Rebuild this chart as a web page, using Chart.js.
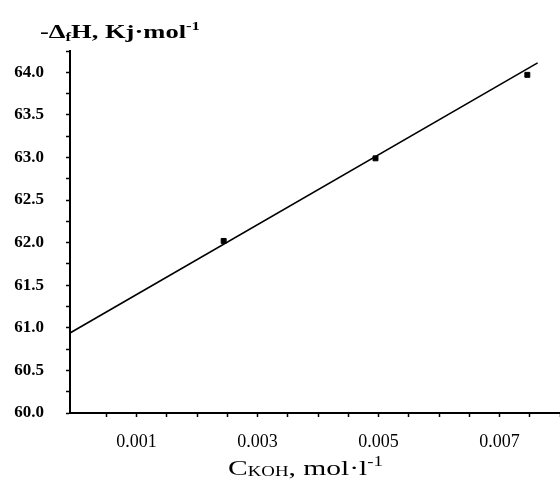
<!DOCTYPE html>
<html>
<head>
<meta charset="utf-8">
<script src="https://cdn.jsdelivr.net/npm/chart.js@4.4.0/dist/chart.umd.min.js"></script>
<style>
  html, body { margin: 0; background: #fff; overflow: hidden; }
  canvas { display: block; }
</style>
</head>
<body>
<!-- el lienzo es 5px más ancho para que el eje x llegue al borde de la ventana -->
<canvas id="grafica" width="565" height="493"></canvas>
<script>
// datos medidos (concentración de KOH vs entalpía)
var concKOH = [0.00244, 0.00495, 0.00746];
var entalpia = [62.02, 62.99, 63.97];

// recta de ajuste, extremos
var ajusteX = [-0.0001, 0.00763];
var ajusteY = [60.94, 64.11];

// marcas del eje x
var xTicks = [0.0005, 0.001, 0.0015, 0.002, 0.0025, 0.003, 0.0035, 0.004, 0.0045, 0.005, 0.0055, 0.006, 0.0065, 0.007, 0.0075, 0.008];
var xEtiquetas = ["0.001", "0.003", "0.005", "0.007"];

var serif = "'Liberation Serif', 'DejaVu Serif', serif";

// dibuja los textos con subíndices y superíndices, estirados al ancho pedido
function textoRico(ctx, x, y, ancho, partes) {
  var total = 0;
  partes.forEach(function (p) {
    ctx.font = (p.bold ? "bold " : "") + p.size + "px " + serif;
    total += ctx.measureText(p.t).width;
  });
  ctx.save();
  ctx.translate(x, y);
  ctx.scale(ancho / total, 1);
  var cx = 0;
  partes.forEach(function (p) {
    ctx.font = (p.bold ? "bold " : "") + p.size + "px " + serif;
    ctx.fillText(p.t, cx, p.dy || 0);
    cx += ctx.measureText(p.t).width;
  });
  ctx.restore();
}

var titulos = {
  id: "titulos",
  afterDraw: function (chart) {
    var ctx = chart.ctx;
    ctx.save();
    ctx.fillStyle = "#000";
    ctx.textBaseline = "alphabetic";
    ctx.textAlign = "left";
    textoRico(ctx, 40, 38, 160, [
      { t: "-Δ", size: 19, bold: true },
      { t: "f", size: 12, bold: true, dy: 3 },
      { t: "H, Kj·mol", size: 19, bold: true },
      { t: "-1", size: 12, bold: true, dy: -8 }
    ]);
    textoRico(ctx, 228, 475, 155, [
      { t: "C", size: 22 },
      { t: "KOH", size: 14, dy: 1 },
      { t: ", mol·l", size: 22 },
      { t: "-1", size: 14, dy: -9 }
    ]);
    ctx.restore();
  }
};

var chart = new Chart(document.getElementById("grafica"), {
  type: "scatter",
  data: {
    datasets: [{
      label: "ajuste",
      type: "line",
      data: ajusteX.map(function (x, i) { return { x: x, y: ajusteY[i] }; }),
      borderColor: "#000",
      borderWidth: 1.6,
      pointRadius: 0,
      fill: false
    }, {
      label: "datos",
      data: concKOH.map(function (x, i) { return { x: x, y: entalpia[i] }; }),
      backgroundColor: "#000",
      borderColor: "#000",
      pointStyle: "rect",
      pointRadius: 3.5
    }]
  },
  options: {
    responsive: false,
    animation: false,
    layout: { padding: { top: 51, right: 0, left: 0, bottom: 0 } },
    plugins: { legend: { display: false }, tooltip: { enabled: false } },
    scales: {
      x: {
        type: "linear",
        min: -0.0001,
        max: 0.008,
        afterBuildTicks: function (scale) {
          scale.ticks = xTicks.map(function (v) { return { value: v }; });
        },
        afterFit: function (scale) {
          scale.height = 80;
          scale.paddingLeft = 0;
          scale.paddingRight = 0;
        },
        border: { color: "#000", width: 2 },
        grid: { drawOnChartArea: false, tickLength: 4, tickColor: "#000", tickWidth: 1.5 },
        ticks: {
          color: "#000",
          padding: 14,
          autoSkip: false,
          maxRotation: 0,
          font: { family: serif, size: 18 },
          callback: function (v) {
            var s = v.toFixed(3);
            return xEtiquetas.indexOf(s) >= 0 && Math.abs(v - parseFloat(s)) < 1e-9 ? s : "";
          }
        }
      },
      y: {
        min: 60,
        max: 64.25,
        afterFit: function (scale) {
          scale.width = 70;
          scale.paddingTop = 0;
          scale.paddingBottom = 0;
        },
        border: { color: "#000", width: 2 },
        grid: { drawOnChartArea: false, tickLength: 4, tickColor: "#000", tickWidth: 1.5 },
        ticks: {
          stepSize: 0.25,
          color: "#000",
          padding: 22,
          autoSkip: false,
          font: { family: serif, size: 17, weight: "bold" },
          callback: function (v) {
            return Math.abs(v * 2 - Math.round(v * 2)) < 1e-9 ? v.toFixed(1) : "";
          }
        }
      }
    }
  },
  plugins: [titulos]
});
</script>
</body>
</html>
